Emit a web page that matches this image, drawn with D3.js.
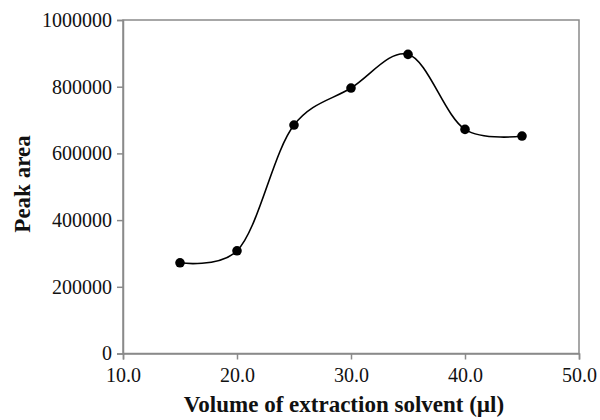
<!DOCTYPE html>
<html><head><meta charset="utf-8">
<script src="https://cdn.jsdelivr.net/npm/d3@7"></script>
<style>body{margin:0;background:#fff} svg text{font-family:'Liberation Serif','Times New Roman',serif;}</style>
</head><body>
<svg id="c" width="600" height="420"></svg>
<script>
const volumes = [15, 20, 25, 30, 35, 40, 45];
const peakAreas = [272000, 308000, 685000, 796000, 897000, 672000, 652000];
const xTicks = [10, 20, 30, 40, 50];
const yTicks = [0, 200000, 400000, 600000, 800000, 1000000];
const xTitle = "Volume of extraction solvent (\u00b5l)";
const yTitle = "Peak area";

const svg = d3.select("#c");
const L = 123, R = 579, T = 20, B = 353.5;
const x = d3.scaleLinear().domain([10, 50]).range([L, R]);
const y = d3.scaleLinear().domain([0, 1000000]).range([B, T]);
const axisCol = "#8a8a8a";
const serif = "'Liberation Serif','Times New Roman',serif";

// frame
svg.append("rect").attr("x", L).attr("y", T).attr("width", R - L).attr("height", B - T)
  .attr("fill", "none").attr("stroke", axisCol).attr("stroke-width", 1.5);

const gx = svg.append("g").attr("transform", `translate(0,${B})`)
  .call(d3.axisBottom(x).tickValues(xTicks).tickFormat(d3.format(".1f")).tickSizeOuter(0).tickSize(6).tickPadding(8));
const gy = svg.append("g").attr("transform", `translate(${L},0)`)
  .call(d3.axisLeft(y).tickValues(yTicks).tickFormat(d => String(d)).tickSizeOuter(0).tickSize(6).tickPadding(5));
[gx, gy].forEach(g => {
  g.attr("font-family", null);
  g.select(".domain").attr("stroke", axisCol).attr("stroke-width", 1.5);
  g.selectAll(".tick line").attr("stroke", axisCol).attr("stroke-width", 1.5);
  g.selectAll("text").attr("fill", "#111").style("font-family", serif).style("font-size", "20px");
});
gx.selectAll("text").attr("dy", "0.72em");

const pts = volumes.map((v, i) => [v, peakAreas[i]]);
const line = d3.line().x(d => x(d[0])).y(d => y(d[1])).curve(d3.curveCatmullRom.alpha(0.25));
svg.append("path").datum(pts).attr("d", line).attr("fill", "none").attr("stroke", "#000").attr("stroke-width", 1.6);
svg.selectAll("circle.pt").data(pts).enter().append("circle").attr("class", "pt")
  .attr("cx", d => x(d[0])).attr("cy", d => y(d[1])).attr("r", 4.8).attr("fill", "#000");

svg.append("text").attr("x", 344).attr("y", 412).attr("text-anchor", "middle")
  .style("font-family", serif).style("font-weight", "bold").style("font-size", "23px")
  .attr("fill", "#111").text(xTitle);
svg.append("text").attr("transform", "translate(30,184) rotate(-90)").attr("text-anchor", "middle")
  .style("font-family", serif).style("font-weight", "bold").style("font-size", "23px")
  .attr("fill", "#111").text(yTitle);
</script>
</body></html>
